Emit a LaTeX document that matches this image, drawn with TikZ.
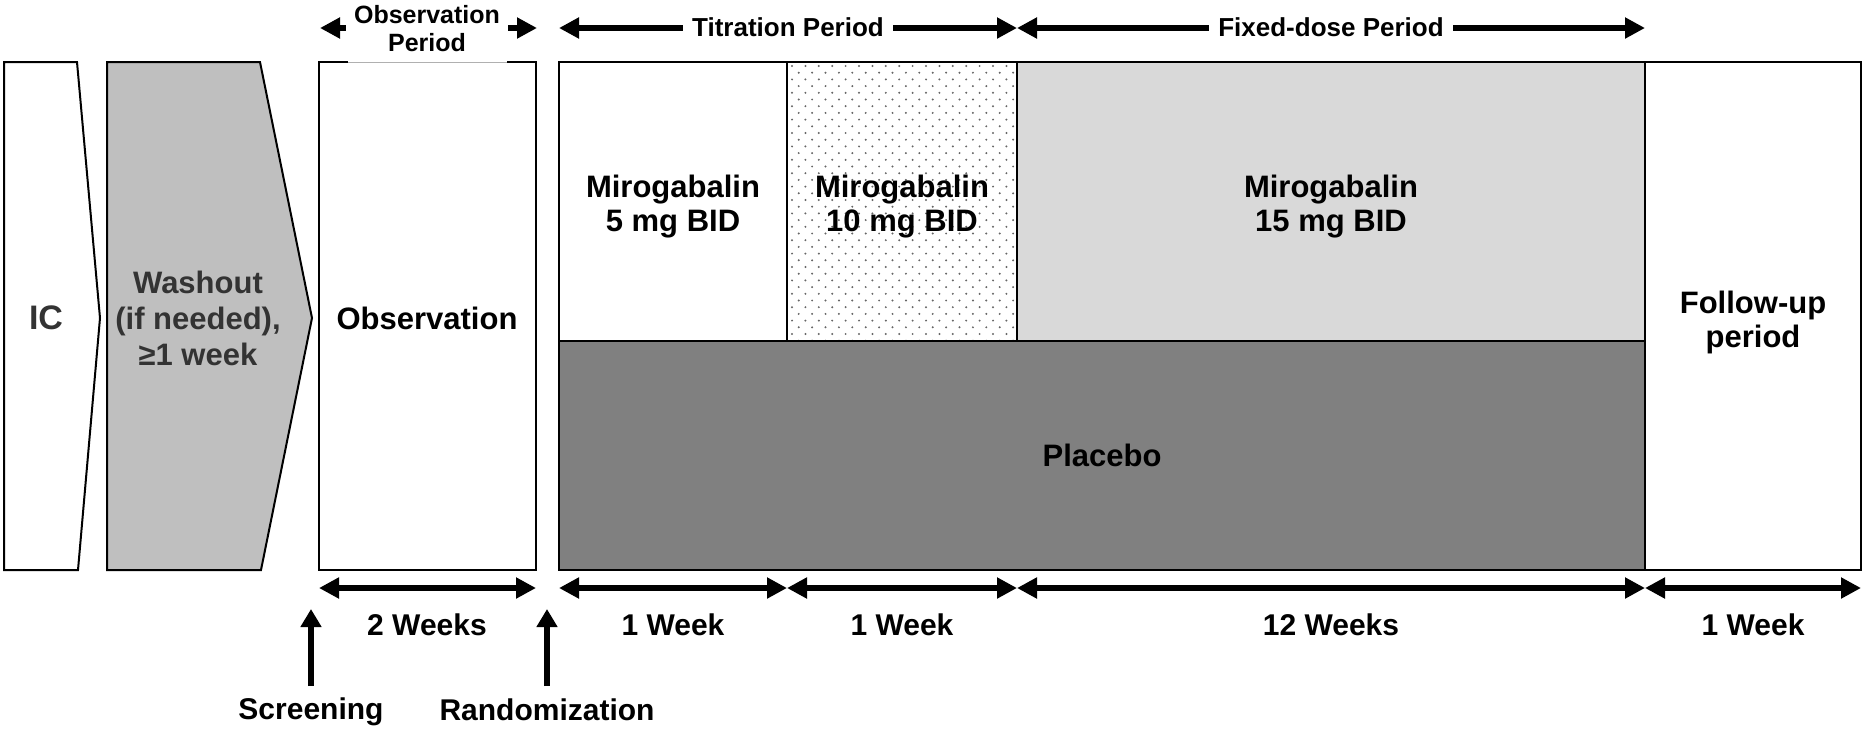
\documentclass[tikz,border=0pt]{standalone}
\usepackage{fontspec}
\setmainfont{Liberation Sans}
\usetikzlibrary{arrows.meta}
\definecolor{washfill}{HTML}{BFBFBF}
\definecolor{fixfill}{HTML}{D9D9D9}
\definecolor{placfill}{HTML}{808080}
\definecolor{washtext}{HTML}{333333}
\definecolor{dotcol}{HTML}{666666}
\definecolor{thingray}{HTML}{B0B0B0}
\begin{document}
\begin{tikzpicture}[x=1pt,y=-1pt,
  boxline/.style={line width=2pt,draw=black},
  boxtext/.style={font=\fontsize{31}{34}\selectfont\bfseries,align=center,inner sep=0pt},
  washtxt/.style={boxtext,font=\fontsize{31}{36}\selectfont\bfseries,text=washtext},
  weektext/.style={font=\fontsize{30}{34}\selectfont\bfseries,inner sep=0pt},
  ptitle/.style={font=\fontsize{26}{28}\selectfont\bfseries,fill=white,inner xsep=9pt,inner ysep=2pt},
  otitle/.style={font=\fontsize{25}{28}\selectfont\bfseries,fill=white,align=center,inner xsep=8pt,inner ysep=0pt},
  dimarrow/.style={line width=6pt,{Triangle[length=20pt,width=20pt]}-{Triangle[length=20pt,width=20pt]}},
  uparrow/.style={line width=6pt,-{Triangle[length=18pt,width=20pt]}}]
\useasboundingbox (0,0) rectangle (1865,732);

% IC shape
\draw[boxline,fill=white,line join=miter] (4,62) -- (77,62) -- (100,318) -- (78,570) -- (4,570) -- cycle;
\node[boxtext,font=\fontsize{34}{36}\selectfont\bfseries,text=washtext] (ic) at (46,318) {IC};

% Washout shape
\draw[boxline,fill=washfill,line join=miter] (107,62) -- (260,62) -- (312,318) -- (261,570) -- (107,570) -- cycle;
\node[washtxt] (wash) at (198,318) {Washout\\(if needed),\\≥1 week};

% Observation box
\draw[boxline] (348,62) -- (319,62) -- (319,570) -- (536,570) -- (536,62) -- (507,62);
\draw[line width=1pt,thingray] (348,62) -- (507,62);
\node[boxtext] (obs) at (427,318) {Observation};

% Main treatment block
\fill[fixfill] (1017,62) rectangle (1645,341);
\fill[placfill] (559,341) rectangle (1645,570);
\begin{scope}
  \clip (787,62) rectangle (1017,341);
  \foreach \r in {0,...,42} {
    \foreach \c in {0,...,17} {
      \fill[dotcol] ({792+13.4*\c+6.7*mod(\r,2)},{66+6.7*\r}) circle (1.1pt);
    }
  }
\end{scope}
\draw[line width=1.6pt] (787,62) -- (787,341);
\draw[line width=1.6pt] (1017,62) -- (1017,341);
\draw[line width=2pt] (559,341) -- (1645,341);
\draw[line width=1.6pt] (1645,62) -- (1645,570);
\draw[boxline] (559,62) rectangle (1861,570);

\node[boxtext] (m5) at (673,207) {Mirogabalin\\5 mg BID};
\node[boxtext] (m10) at (902,207) {Mirogabalin\\10 mg BID};
\node[boxtext] (m15) at (1331,207) {Mirogabalin\\15 mg BID};
\node[boxtext] (plac) at (1102,455) {Placebo};
\node[boxtext] (fu) at (1753,322) {Follow-up\\period};

% Top period arrows
\coordinate (obpL) at (320,28);
\coordinate (obpR) at (537,28);
\draw[dimarrow] (obpL) -- (obpR);
\node[otitle] (obp) at (427,29) {Observation\\Period};

\coordinate (titL) at (559,28);
\coordinate (titR) at (1017,28);
\draw[dimarrow] (titL) -- (titR);
\node[ptitle] (tit) at (788,27) {Titration Period};

\coordinate (fixL) at (1017,28);
\coordinate (fixR) at (1645,28);
\draw[dimarrow] (fixL) -- (fixR);
\node[ptitle] (fix) at (1331,27) {Fixed-dose Period};

% Bottom duration arrows
\coordinate (d0a) at (319,588); \coordinate (d0b) at (536,588);
\coordinate (d1a) at (559,588); \coordinate (d1b) at (787,588);
\coordinate (d2a) at (787,588); \coordinate (d2b) at (1017,588);
\coordinate (d3a) at (1017,588); \coordinate (d3b) at (1645,588);
\coordinate (d4a) at (1645,588); \coordinate (d4b) at (1861,588);
\draw[dimarrow] (d0a) -- (d0b);
\draw[dimarrow] (d1a) -- (d1b);
\draw[dimarrow] (d2a) -- (d2b);
\draw[dimarrow] (d3a) -- (d3b);
\draw[dimarrow] (d4a) -- (d4b);

\node[weektext] (w0) at (427,625) {2 Weeks};
\node[weektext] (w1) at (673,625) {1 Week};
\node[weektext] (w2) at (902,625) {1 Week};
\node[weektext] (w3) at (1331,625) {12 Weeks};
\node[weektext] (w4) at (1753,625) {1 Week};

% Screening / Randomization markers
\coordinate (scrB) at (311,686); \coordinate (scrT) at (311,609);
\coordinate (rndB) at (547,686); \coordinate (rndT) at (547,609);
\draw[uparrow] (scrB) -- (scrT);
\draw[uparrow] (rndB) -- (rndT);
\node[weektext] (scr) at (311,712) {Screening};
\node[weektext] (rnd) at (547,710) {Randomization};
\end{tikzpicture}
\end{document}
